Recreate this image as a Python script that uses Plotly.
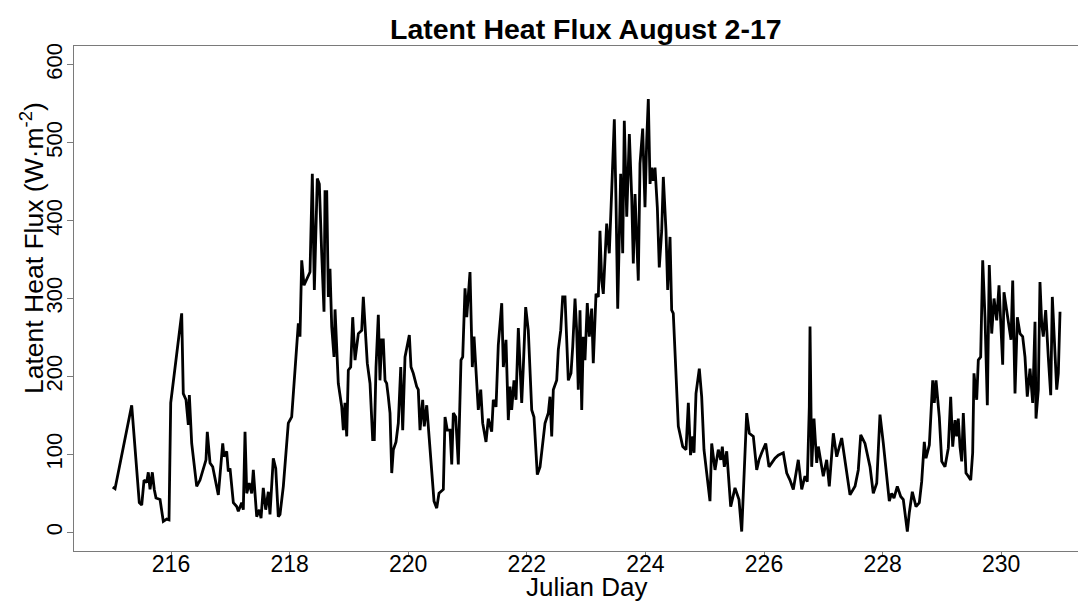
import plotly.graph_objects as go

# Julian day (fractional) and latent heat flux (W m^-2)
day = [
    215.017, 215.056, 215.337, 215.465, 215.506, 215.545, 215.590, 215.617, 215.646, 215.685,
    215.718, 215.747, 215.815, 215.870, 215.927, 215.966, 215.995, 216.180, 216.207, 216.253,
    216.292, 216.309, 216.349, 216.433, 216.489, 216.545, 216.590, 216.612, 216.658, 216.703,
    216.798, 216.872, 216.894, 216.939, 216.966, 216.995, 217.051, 217.108, 217.135, 217.192,
    217.219, 217.248, 217.277, 217.320, 217.361, 217.388, 217.416, 217.445, 217.489, 217.518,
    217.556, 217.597, 217.641, 217.669, 217.725, 217.766, 217.809, 217.838, 217.894, 217.922,
    217.978, 218.035, 218.091, 218.147, 218.175, 218.204, 218.243, 218.344, 218.383, 218.417,
    218.467, 218.501, 218.541, 218.580, 218.597, 218.626, 218.653, 218.681, 218.710, 218.749,
    218.766, 218.821, 218.879, 218.906, 218.934, 218.963, 218.990, 219.030, 219.064, 219.103,
    219.159, 219.216, 219.243, 219.272, 219.310, 219.356, 219.401, 219.428, 219.457, 219.496,
    219.524, 219.553, 219.580, 219.609, 219.637, 219.664, 219.693, 219.722, 219.749, 219.794,
    219.833, 219.874, 219.907, 219.946, 219.985, 220.019, 220.047, 220.086, 220.143, 220.170,
    220.199, 220.244, 220.271, 220.312, 220.356, 220.396, 220.435, 220.481, 220.519, 220.592,
    220.621, 220.659, 220.705, 220.734, 220.761, 220.801, 220.845, 220.890, 220.919, 220.958,
    220.987, 221.042, 221.081, 221.110, 221.155, 221.182, 221.223, 221.256, 221.312, 221.351,
    221.408, 221.435, 221.481, 221.519, 221.577, 221.604, 221.649, 221.688, 221.717, 221.745,
    221.784, 221.818, 221.857, 221.885, 221.914, 221.941, 221.981, 222.025, 222.083, 222.121,
    222.177, 222.223, 222.251, 222.307, 222.363, 222.391, 222.420, 222.447, 222.504, 222.531,
    222.572, 222.605, 222.644, 222.661, 222.700, 222.745, 222.774, 222.813, 222.841, 222.868,
    222.897, 222.926, 222.953, 222.981, 223.020, 223.054, 223.094, 223.121, 223.167, 223.206,
    223.234, 223.263, 223.290, 223.347, 223.391, 223.432, 223.476, 223.504, 223.533, 223.583,
    223.617, 223.644, 223.685, 223.729, 223.769, 223.796, 223.825, 223.880, 223.909, 223.954,
    223.993, 224.022, 224.049, 224.078, 224.106, 224.133, 224.162, 224.201, 224.234, 224.275,
    224.302, 224.347, 224.376, 224.415, 224.443, 224.470, 224.516, 224.555, 224.629, 224.685,
    224.724, 224.761, 224.798, 224.820, 224.853, 224.909, 224.949, 224.988, 225.034, 225.089,
    225.118, 225.174, 225.229, 225.270, 225.297, 225.331, 225.371, 225.438, 225.511, 225.578,
    225.624, 225.708, 225.752, 225.820, 225.877, 225.916, 225.961, 226.029, 226.084, 226.186,
    226.241, 226.325, 226.383, 226.438, 226.494, 226.578, 226.636, 226.691, 226.730, 226.764,
    226.776, 226.804, 226.843, 226.889, 226.916, 226.973, 227.000, 227.057, 227.101, 227.169,
    227.226, 227.310, 227.366, 227.450, 227.535, 227.590, 227.631, 227.703, 227.788, 227.843,
    227.901, 227.956, 228.012, 228.069, 228.113, 228.153, 228.192, 228.248, 228.305, 228.349,
    228.417, 228.450, 228.501, 228.563, 228.619, 228.659, 228.703, 228.732, 228.788, 228.845,
    228.872, 228.901, 228.956, 228.997, 229.052, 229.108, 229.148, 229.182, 229.221, 229.249,
    229.276, 229.305, 229.334, 229.361, 229.406, 229.445, 229.486, 229.519, 229.541, 229.587,
    229.614, 229.654, 229.688, 229.727, 229.766, 229.799, 229.840, 229.879, 229.924, 229.963,
    229.991, 230.025, 230.047, 230.081, 230.120, 230.165, 230.194, 230.233, 230.272, 230.317,
    230.362, 230.401, 230.440, 230.486, 230.531, 230.570, 230.587, 230.626, 230.654, 230.683,
    230.710, 230.750, 230.794, 230.835, 230.862, 230.890, 230.936, 230.963, 230.992,
]

flux = [
    58, 56, 163, 38, 35, 67, 64, 77, 55, 77,
    55, 44, 42, 14, 17, 16, 166, 281, 178, 170,
    138, 176, 114, 59, 67, 82, 93, 129, 89, 84,
    48, 114, 97, 104, 78, 82, 38, 33, 27, 38,
    29, 129, 50, 63, 50, 80, 50, 20, 29, 18,
    57, 29, 52, 23, 95, 82, 20, 23, 59, 84,
    140, 148, 212, 268, 251, 349, 317, 334, 460, 311,
    454, 447, 358, 283, 437, 437, 302, 338, 264, 225,
    286, 191, 161, 131, 166, 123, 208, 212, 276, 221,
    255, 259, 302, 264, 217, 191, 119, 119, 212, 279,
    195, 247, 247, 195, 191, 174, 153, 76, 106, 116,
    140, 212, 131, 225, 238, 253, 212, 204, 187, 183,
    131, 170, 136, 163, 119, 80, 40, 31, 50, 55,
    148, 131, 131, 87, 153, 148, 87, 221, 225, 313,
    276, 334, 212, 251, 187, 157, 183, 140, 116, 146,
    129, 170, 161, 240, 294, 212, 247, 144, 187, 157,
    195, 170, 262, 221, 166, 212, 289, 259, 157, 148,
    74, 84, 102, 140, 153, 174, 123, 183, 195, 234,
    259, 302, 302, 272, 195, 204, 238, 300, 259, 183,
    285, 157, 251, 221, 294, 251, 287, 217, 306, 302,
    387, 323, 306, 396, 358, 439, 530, 426, 287, 460,
    358, 528, 405, 511, 430, 345, 434, 323, 473, 518,
    417, 503, 556, 447, 468, 451, 468, 417, 340, 387,
    456, 387, 311, 379, 285, 281, 208, 136, 110, 106,
    166, 99, 123, 102, 178, 210, 174, 106, 76, 40,
    114, 80, 106, 93, 110, 84, 104, 33, 57, 42,
    1, 153, 127, 123, 80, 93, 102, 114, 84, 95,
    99, 102, 76, 67, 55, 93, 55, 72, 65, 161,
    264, 84, 146, 89, 110, 84, 72, 93, 59, 127,
    97, 121, 93, 48, 59, 80, 125, 114, 84, 50,
    63, 151, 114, 76, 40, 50, 44, 59, 46, 42,
    1, 25, 52, 33, 38, 65, 116, 95, 112, 195,
    166, 195, 148, 91, 84, 108, 174, 110, 144, 123,
    146, 110, 91, 153, 76, 72, 67, 102, 204, 170,
    221, 225, 349, 276, 163, 343, 255, 300, 272, 317,
    268, 215, 308, 289, 272, 247, 323, 178, 276, 255,
    251, 225, 174, 210, 166, 270, 146, 183, 321, 268,
    251, 285, 225, 176, 302, 251, 183, 204, 283,
]

x_ticks = [216, 218, 220, 222, 224, 226, 228, 230]
y_ticks = [0, 100, 200, 300, 400, 500, 600]

FONT = "Liberation Sans, Arial, sans-serif"
AXIS_COL = "#7a7a7a"

# the page places the figure 8px in from the top-left corner, so the
# figure is 8px smaller than the window and everything is shifted by -8
W, H = 1078, 593
ML, MT, MB = 66, 38, 50
PW, PH = W - ML, H - MT - MB

fig = go.Figure()
fig.add_trace(go.Scatter(
    x=day, y=flux, mode="lines",
    line=dict(color="black", width=2.8),
    hoverinfo="skip", showlegend=False,
))

fig.update_layout(
    width=W, height=H,
    margin=dict(l=ML, r=0, t=MT, b=MB, autoexpand=False),
    paper_bgcolor="white", plot_bgcolor="white",
    font=dict(family=FONT, color="black"),
    showlegend=False,
)

fig.update_xaxes(
    range=[214.364, 231.43], automargin=False,
    tickmode="array", tickvals=x_ticks, ticktext=[str(t) for t in x_ticks],
    ticks="outside", ticklen=5, tickwidth=1, tickcolor=AXIS_COL,
    ticklabelstandoff=-13,
    tickfont=dict(size=23, family=FONT, color="black"),
    showline=True, linecolor=AXIS_COL, linewidth=1.3, mirror=True,
    showgrid=False, zeroline=False,
)
fig.update_yaxes(
    range=[-24, 624], automargin=False,
    tickmode="array", tickvals=y_ticks, ticktext=[str(t) for t in y_ticks],
    ticks="outside", ticklen=6, tickwidth=1, tickcolor=AXIS_COL,
    tickangle=-90, ticklabelstandoff=-4,
    tickfont=dict(size=22, family=FONT, color="black"),
    showline=True, linecolor=AXIS_COL, linewidth=1.3, mirror=False,
    showgrid=False, zeroline=False,
)

# positions below are reference-page pixels converted to paper fractions
def px_x(x):
    return (x - 8 - ML) / PW

def px_y(y):
    return (H - MB - (y - 8)) / PH

fig.add_annotation(
    text="<b>Latent Heat Flux August 2-17</b>",
    xref="paper", yref="paper", x=px_x(586), y=px_y(29),
    xanchor="center", yanchor="middle", showarrow=False,
    font=dict(size=28.5, family=FONT, color="black"),
)
fig.add_annotation(
    text="Julian Day",
    xref="paper", yref="paper", x=px_x(586), y=px_y(587),
    xanchor="center", yanchor="middle", showarrow=False,
    font=dict(size=26, family=FONT, color="black"),
)
fig.add_annotation(
    text="Latent Heat Flux (W·m<sup>-2</sup>)",
    xref="paper", yref="paper", x=px_x(32), y=px_y(248),
    xanchor="center", yanchor="middle", showarrow=False, textangle=-90,
    font=dict(size=26.5, family=FONT, color="black"),
)

fig.write_html("out.html")
